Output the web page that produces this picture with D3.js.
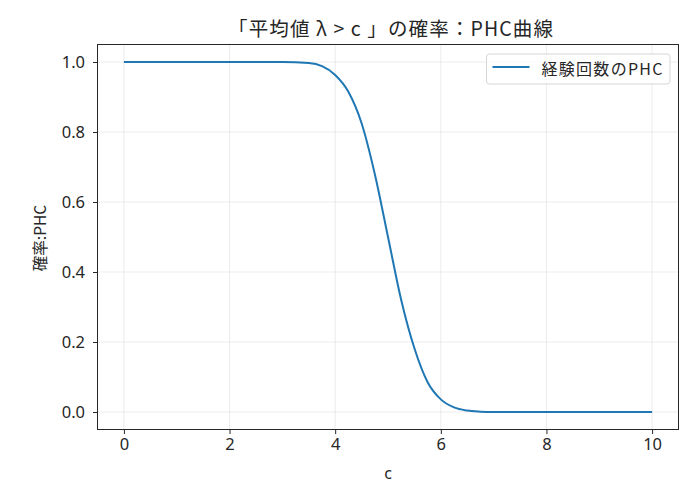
<!DOCTYPE html>
<html>
<head>
<meta charset="utf-8">
<script src="https://cdn.jsdelivr.net/npm/d3@7"></script>
<style>
  body { margin: 0; background: #fff; }
  text { font-family: "Noto Sans CJK JP", "Noto Sans", sans-serif; fill: #262626; }
</style>
</head>
<body>
<svg id="chart" width="694" height="493"></svg>
<script>
// values
const cValues = [0, 1, 2, 3, 3.5, 3.75, 4.0, 4.25, 4.5, 4.75, 5.0, 5.25, 5.5, 5.75, 6.0, 6.25, 6.5, 6.75, 7.0, 8, 9, 10];
const phcValues = [1, 1, 1, 1, 0.997, 0.988, 0.963, 0.915, 0.825, 0.68, 0.50, 0.32, 0.182, 0.085, 0.036, 0.013, 0.004, 0.001, 0, 0, 0, 0];
const xTicks = [0, 2, 4, 6, 8, 10];
const yTicks = [0.0, 0.2, 0.4, 0.6, 0.8, 1.0];
const titleText = "「平均値 λ > c 」の確率：PHC曲線";
const xLabel = "c", yLabel = "確率:PHC", seriesName = "経験回数のPHC";

const margin = {top: 44.5, right: 15.5, bottom: 63.5, left: 97.5};
const width = 694, height = 493;
const innerW = width - margin.left - margin.right, innerH = height - margin.top - margin.bottom;

const svg = d3.select("#chart");
const g = svg.append("g").attr("transform", `translate(${margin.left},${margin.top})`);

const x = d3.scaleLinear().domain([-0.5, 10.5]).range([0, innerW]);
const y = d3.scaleLinear().domain([-0.05, 1.05]).range([innerH, 0]);

// grid
g.append("g").selectAll("line").data(xTicks).join("line")
    .attr("x1", d => x(d)).attr("x2", d => x(d)).attr("y1", 0).attr("y2", innerH)
    .attr("stroke", "#b0b0b0").attr("stroke-opacity", 0.3).attr("stroke-width", 0.8);
g.append("g").selectAll("line").data(yTicks).join("line")
    .attr("y1", d => y(d)).attr("y2", d => y(d)).attr("x1", 0).attr("x2", innerW)
    .attr("stroke", "#b0b0b0").attr("stroke-opacity", 0.3).attr("stroke-width", 0.8);

const data = cValues.map((c, i) => ({c: c, p: phcValues[i]}));
const line = d3.line().x(d => x(d.c)).y(d => y(d.p)).curve(d3.curveMonotoneX);

g.append("path").datum(data)
    .attr("fill", "none").attr("stroke", "#1f77b4").attr("stroke-width", 2)
    .attr("d", line);

// axes
const xAxis = g.append("g").attr("transform", `translate(0,${innerH})`)
    .call(d3.axisBottom(x).tickValues(xTicks).tickSize(4.5).tickPadding(4).tickFormat(d3.format("d")));
const yAxis = g.append("g")
    .call(d3.axisLeft(y).tickValues(yTicks).tickSize(4.5).tickPadding(8).tickFormat(d3.format(".1f")));
[xAxis, yAxis].forEach(a => {
  a.select(".domain").remove();
  a.selectAll("line").attr("stroke", "#262626").attr("stroke-width", 1);
  a.selectAll("text").attr("font-size", 16.5).style("font-family", '"Noto Sans", sans-serif').attr("fill", "#262626");
});

g.append("rect").attr("width", innerW).attr("height", innerH)
    .attr("fill", "none").attr("stroke", "#262626").attr("stroke-width", 1);

// labels
svg.append("text").attr("x", 228).attr("y", 36)
    .attr("textLength", 325).attr("lengthAdjust", "spacing")
    .attr("font-size", 19.5).text(titleText);
svg.append("text").attr("x", margin.left + innerW / 2).attr("y", 479)
    .attr("text-anchor", "middle").attr("font-size", 16).style("font-family", '"Noto Sans", sans-serif').text(xLabel);
svg.append("text").attr("transform", `translate(46,${238}) rotate(-90)`)
    .attr("text-anchor", "middle").attr("font-size", 15.5).text(yLabel);

// legend
const lg = svg.append("g").attr("transform", "translate(486.5,54)");
lg.append("rect").attr("width", 183.5).attr("height", 30).attr("rx", 3)
    .attr("fill", "#fff").attr("fill-opacity", 0.8).attr("stroke", "#d6d6d6");
lg.append("line").attr("x1", 6).attr("x2", 43).attr("y1", 13).attr("y2", 13)
    .attr("stroke", "#1f77b4").attr("stroke-width", 2);
lg.append("text").attr("x", 55).attr("y", 20.5).attr("textLength", 121).attr("lengthAdjust", "spacing")
    .attr("font-size", 16).text(seriesName);
</script>
</body>
</html>
